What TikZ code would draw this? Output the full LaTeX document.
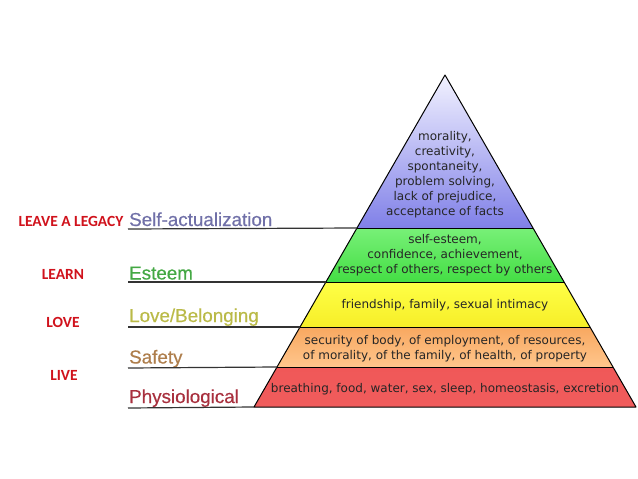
\documentclass[tikz,border=0pt]{standalone}
\usepackage{fontspec}
\newfontfamily\tierfont{DejaVu Sans}
\newfontfamily\levelfont[FakeBold=0.5]{Liberation Sans}
\newfontfamily\motofont{Carlito}
\usetikzlibrary{positioning, calc}

\definecolor{selfcol}{HTML}{7070A8}
\definecolor{esteemcol}{HTML}{44A844}
\definecolor{lovecol}{HTML}{BABA48}
\definecolor{safetycol}{HTML}{AE7E4C}
\definecolor{physcol}{HTML}{A8303E}
\definecolor{mottocol}{HTML}{D0121C}
\definecolor{rulecol}{HTML}{333333}

\begin{document}
\begin{tikzpicture}[
    % Global options: pixel units, y downwards
    x=1pt, y=-1pt,
    tierline/.style={draw=black, line width=1pt, line join=round},
    tiertext/.style={font=\tierfont\fontsize{12}{15}\selectfont, align=center, text=black!85},
    levellabel/.style={font=\levelfont\fontsize{18.8}{20}\selectfont, anchor=base west, inner sep=0pt},
    motto/.style={font=\motofont\bfseries\fontsize{15.5}{17}\selectfont, text=mottocol, inner sep=0pt},
    levelrule/.style={draw=rulecol, line width=1.2pt},
  ]
    \useasboundingbox (0,0) rectangle (638,479);

    % --- Pyramid corners ---
    \coordinate (apex) at (445,75);
    \coordinate (l1) at (357,228);   \coordinate (r1) at (533,228);
    \coordinate (l2) at (326,282);   \coordinate (r2) at (564,282);
    \coordinate (l3) at (300,327);   \coordinate (r3) at (590,327);
    \coordinate (l4) at (277,367);   \coordinate (r4) at (613,367);
    \coordinate (l5) at (254,407);   \coordinate (r5) at (636,407);

    % --- Tiers ---
    \shade[top color={rgb,255:red,242;green,242;blue,255}, middle color={rgb,255:red,190;green,190;blue,245},
           bottom color={rgb,255:red,128;green,128;blue,232}]
      (apex) -- (l1) -- (r1) -- cycle;
    \shade[top color={rgb,255:red,120;green,240;blue,120}, bottom color={rgb,255:red,68;green,222;blue,68}]
      (l1) -- (l2) -- (r2) -- (r1) -- cycle;
    \shade[top color={rgb,255:red,255;green,255;blue,70}, bottom color={rgb,255:red,246;green,238;blue,40}]
      (l2) -- (l3) -- (r3) -- (r2) -- cycle;
    \shade[top color={rgb,255:red,248;green,168;blue,96}, bottom color={rgb,255:red,255;green,198;blue,140}]
      (l3) -- (l4) -- (r4) -- (r3) -- cycle;
    \shade[top color={rgb,255:red,240;green,88;blue,88}, middle color={rgb,255:red,255;green,112;blue,112},
           bottom color={rgb,255:red,240;green,92;blue,92}]
      (l4) -- (l5) -- (r5) -- (r4) -- cycle;
    \draw[tierline] (apex) -- (l5) -- (r5) -- cycle;
    \draw[tierline] (l1) -- (r1);
    \draw[tierline] (l2) -- (r2);
    \draw[tierline] (l3) -- (r3);
    \draw[tierline] (l4) -- (r4);

    % --- Tier contents ---
    \node[tiertext] (selftext) at (445,174.5) {morality,\\creativity,\\spontaneity,\\problem solving,\\lack of prejudice,\\acceptance of facts};
    \node[tiertext] (esteemtext) at (445,255.5) {self-esteem,\\confidence, achievement,\\respect of others, respect by others};
    \node[tiertext] (lovetext) at (445,305) {friendship, family, sexual intimacy};
    \node[tiertext] (safetytext) at (445,349) {security of body, of employment, of resources,\\of morality, of the family, of health, of property};
    \node[tiertext] (phystext) at (445,389) {breathing, food, water, sex, sleep, homeostasis, excretion};

    % --- Level names and rules ---
    \node[levellabel, text=selfcol] (selflabel) at (129,226) {Self-actualization};
    \node[levellabel, text=esteemcol] (esteemlabel) at (129,279.5) {Esteem};
    \node[levellabel, text=lovecol] (lovelabel) at (129,322) {Love/Belonging};
    \node[levellabel, text=safetycol] (safetylabel) at (129,363.5) {Safety};
    \node[levellabel, text=physcol] (physlabel) at (129,403) {Physiological};
    \coordinate (s1) at (128,229);
    \coordinate (s2) at (128,282);
    \coordinate (s3) at (128,327);
    \coordinate (s4) at (128,368);
    \coordinate (s5) at (128,408);
    \draw[levelrule] (s1) -- (l1);
    \draw[levelrule] (s2) -- (l2);
    \draw[levelrule] (s3) -- (l3);
    \draw[levelrule] (s4) -- (l4);
    \draw[levelrule] (s5) -- (l5);

    % --- Red mottos ---
    \node[motto] (legacy) at (71,221) {LEAVE A LEGACY};
    \node[motto] (learn) at (63,274) {LEARN};
    \node[motto] (love) at (63,322) {LOVE};
    \node[motto] (live) at (64,375) {LIVE};
  \end{tikzpicture}
\end{document}
